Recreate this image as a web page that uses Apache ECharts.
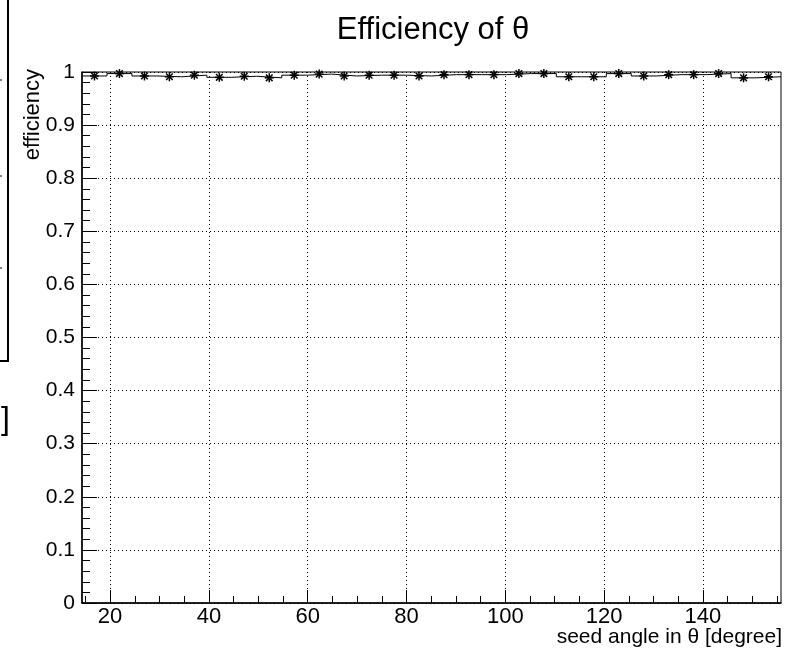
<!DOCTYPE html>
<html>
<head>
<meta charset="utf-8">
<script src="https://cdn.jsdelivr.net/npm/echarts@6/dist/echarts.min.js"></script>
<style>html,body{margin:0;padding:0;background:#fff}#c{width:785px;height:652px}</style>
</head>
<body>
<div id="c"></div>
<script>
// Bin edges (degrees) of the efficiency histogram
const binEdges = [14.32, 19.37, 24.43, 29.48, 34.53, 39.59, 44.64, 49.69, 54.75, 59.80,
  64.85, 69.91, 74.96, 80.01, 85.06, 90.12, 95.17, 100.22, 105.28, 110.33,
  115.38, 120.44, 125.49, 130.54, 135.60, 140.65, 145.70, 150.75, 155.80];
// Efficiency per bin
const efficiency = [0.9925, 0.997, 0.9925, 0.991, 0.994, 0.990, 0.992, 0.989, 0.994, 0.996,
  0.9925, 0.994, 0.994, 0.9925, 0.995, 0.995, 0.995, 0.997, 0.997, 0.991,
  0.991, 0.997, 0.9925, 0.995, 0.995, 0.997, 0.989, 0.991];
const xMajorTicks = [20, 40, 60, 80, 100, 120, 140];
const xMinorTicks = [15, 25, 30, 35, 45, 50, 55, 65, 70, 75, 85, 90, 95, 105, 110, 115, 125, 130, 135, 145, 150, 155];
const titleText = 'Efficiency of \u03b8';
const xTitle = 'seed angle in \u03b8 [degree]';
const yTitle = 'efficiency';

const FONT = '"Liberation Sans", Arial, Helvetica, sans-serif';
const centers = efficiency.map((v, i) => (binEdges[i] + binEdges[i + 1]) / 2);
const markerData = efficiency.map((v, i) => [centers[i], v]);
const stepData = efficiency.map((v, i) => [binEdges[i], v]);
stepData.push([binEdges[binEdges.length - 1], efficiency[efficiency.length - 1]]);
const xMin = binEdges[0], xMax = binEdges[binEdges.length - 1];

const chart = echarts.init(document.getElementById('c'), null, {renderer: 'canvas'});
chart.setOption({
  animation: false,
  backgroundColor: '#fff',
  grid: {left: 82, right: 4, top: 72, bottom: 49, show: true, borderColor: '#000', borderWidth: 1, backgroundColor: 'transparent'},
  xAxis: [{
    type: 'value', min: xMin, max: xMax, position: 'bottom',
    axisLine: {show: true, onZero: false, lineStyle: {color: '#000', width: 1.5}},
    axisTick: {show: true, inside: true, length: 13, customValues: xMajorTicks, lineStyle: {color: '#000', width: 1}},
    axisLabel: {show: true, customValues: xMajorTicks, color: '#000', fontFamily: FONT, fontSize: 22, margin: 3},
    splitLine: {show: true, lineStyle: {color: '#000', width: 1, type: [1, 3]}}
  }, {
    type: 'value', min: xMin, max: xMax, position: 'bottom',
    axisLine: {show: false},
    axisTick: {show: true, inside: true, length: 7, customValues: xMinorTicks, lineStyle: {color: '#000', width: 1}},
    axisLabel: {show: false},
    splitLine: {show: false}
  }],
  yAxis: {
    type: 'value', min: 0, max: 1, interval: 0.1,
    axisLine: {show: true, lineStyle: {color: '#000', width: 1.5}},
    axisTick: {show: true, inside: true, length: 15, lineStyle: {color: '#000', width: 1}},
    minorTick: {show: true, splitNumber: 5, length: 8, lineStyle: {color: '#000', width: 1}},
    axisLabel: {color: '#000', fontFamily: FONT, fontSize: 21, margin: 7,
      formatter: v => String(Math.round(v * 10) / 10)},
    splitLine: {show: true, lineStyle: {color: '#000', width: 1, type: [1, 3]}}
  },
  series: [{
    type: 'line', step: 'end', data: stepData, xAxisIndex: 0,
    symbol: 'none', lineStyle: {color: '#000', width: 1}, z: 3
  }, {
    type: 'custom', data: markerData, xAxisIndex: 0, z: 4,
    renderItem: function (params, api) {
      const p = api.coord([api.value(0), api.value(1)]);
      const s = 4.5, d = 3.3;
      const st = {stroke: '#000', lineWidth: 1.5};
      return {type: 'group', children: [
        {type: 'line', shape: {x1: p[0] - s, y1: p[1], x2: p[0] + s, y2: p[1]}, style: st},
        {type: 'line', shape: {x1: p[0], y1: p[1] - s, x2: p[0], y2: p[1] + s}, style: st},
        {type: 'line', shape: {x1: p[0] - d, y1: p[1] - d, x2: p[0] + d, y2: p[1] + d}, style: st},
        {type: 'line', shape: {x1: p[0] - d, y1: p[1] + d, x2: p[0] + d, y2: p[1] - d}, style: st}
      ]};
    }
  }],
  graphic: [
    {type: 'text', x: 433, y: 30, style: {text: titleText, font: '31px ' + FONT, fill: '#000', align: 'center', verticalAlign: 'middle'}},
    {type: 'text', x: 782, y: 637, style: {text: xTitle, font: '21px ' + FONT, fill: '#000', align: 'right', verticalAlign: 'middle'}},
    {type: 'text', x: 33, y: 69, rotation: Math.PI / 2, style: {text: yTitle, font: '22px ' + FONT, fill: '#000', align: 'right', verticalAlign: 'middle'}},
    {type: 'line', shape: {x1: 8, y1: 0, x2: 8, y2: 361}, style: {stroke: '#000', lineWidth: 2}},
    {type: 'line', shape: {x1: 0, y1: 361, x2: 9, y2: 361}, style: {stroke: '#000', lineWidth: 2}},
    {type: 'line', shape: {x1: 0, y1: 80, x2: 2, y2: 80}, style: {stroke: '#000', lineWidth: 1}},
    {type: 'line', shape: {x1: 0, y1: 176, x2: 2, y2: 176}, style: {stroke: '#000', lineWidth: 1}},
    {type: 'line', shape: {x1: 0, y1: 268, x2: 2, y2: 268}, style: {stroke: '#000', lineWidth: 1}},
    {type: 'text', x: 10, y: 420, style: {text: ']', font: '32px ' + FONT, fill: '#000', align: 'right', verticalAlign: 'middle'}}
  ]
});
</script>
</body>
</html>
